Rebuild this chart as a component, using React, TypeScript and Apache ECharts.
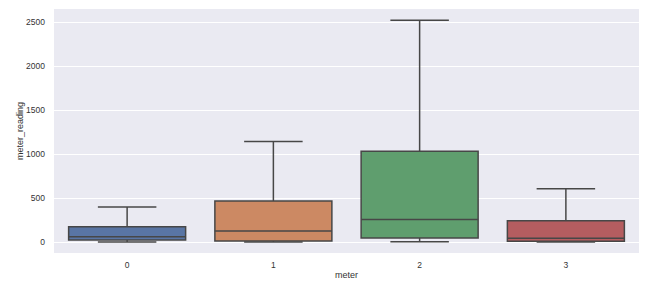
import React, { useEffect, useRef } from "react";
import * as echarts from "echarts";

const categories = ["0", "1", "2", "3"];
// [lowerWhisker, q1, median, q3, upperWhisker]
const lowerWhisker = [0, 0, 3, 0];
const q1 = [23, 11, 45, 8];
const median = [60, 124, 256, 42];
const q3 = [173, 464, 1029, 241];
const upperWhisker = [396, 1142, 2519, 603];
const boxColors = ["#5975a4", "#cc8963", "#5f9e6e", "#b55d60"];
const yTicks = [0, 500, 1000, 1500, 2000, 2500];

export default function App() {
  const ref = useRef<HTMLDivElement>(null);
  useEffect(() => {
    if (!ref.current) return;
    const chart = echarts.init(ref.current, null, { renderer: "svg" });
    const data = categories.map((c, i) => [i, lowerWhisker[i], q1[i], median[i], q3[i], upperWhisker[i]]);
    const lineColor = "#474747";
    chart.setOption({
      animation: false,
      backgroundColor: "#ffffff",
      textStyle: { fontFamily: "Liberation Sans, Arial, sans-serif" },
      grid: {
        left: 54, right: 18, top: 9, bottom: 35, show: true, backgroundColor: "#eaeaf2", borderWidth: 0,
        containLabel: false, outerBoundsMode: "none",
      },
      xAxis: {
        type: "category",
        data: categories,
        name: "meter",
        nameLocation: "middle",
        nameGap: 17,
        nameMoveOverlap: false,
        nameTextStyle: { color: "#333333", fontSize: 9 },
        axisLine: { show: false },
        axisTick: { show: false },
        axisLabel: { color: "#333333", fontSize: 8.5, margin: 7 },
        splitLine: { show: false },
      },
      yAxis: {
        type: "value",
        min: -126,
        max: 2646,
        name: "meter_reading",
        nameLocation: "middle",
        nameGap: 30,
        nameMoveOverlap: false,
        nameTextStyle: { color: "#333333", fontSize: 9 },
        axisLine: { show: false },
        axisTick: { show: false, customValues: yTicks },
        axisLabel: { color: "#333333", fontSize: 8.5, margin: 9, customValues: yTicks, formatter: (v: number) => String(v) },
        splitLine: { show: true, lineStyle: { color: "#ffffff", width: 1 } },
      },
      series: [
        {
          type: "custom",
          data,
          z: 3,
          renderItem: (params: any, api: any) => {
            const idx = api.value(0);
            const bw = api.size([1, 0])[0];
            const boxW = bw * 0.8;
            const capW = boxW * 0.5;
            const pLo = api.coord([idx, api.value(1)]);
            const pQ1 = api.coord([idx, api.value(2)]);
            const pMed = api.coord([idx, api.value(3)]);
            const pQ3 = api.coord([idx, api.value(4)]);
            const pHi = api.coord([idx, api.value(5)]);
            const cx = pQ1[0];
            const ls = { stroke: lineColor, lineWidth: 1.5 };
            return {
              type: "group",
              children: [
                { type: "line", shape: { x1: cx, y1: pQ3[1], x2: cx, y2: pHi[1] }, style: ls },
                { type: "line", shape: { x1: cx, y1: pQ1[1], x2: cx, y2: pLo[1] }, style: ls },
                { type: "line", shape: { x1: cx - capW / 2, y1: pHi[1], x2: cx + capW / 2, y2: pHi[1] }, style: ls },
                { type: "line", shape: { x1: cx - capW / 2, y1: pLo[1], x2: cx + capW / 2, y2: pLo[1] }, style: ls },
                {
                  type: "rect",
                  shape: { x: cx - boxW / 2, y: pQ3[1], width: boxW, height: pQ1[1] - pQ3[1] },
                  style: { fill: boxColors[params.dataIndex], stroke: lineColor, lineWidth: 1.5 },
                },
                { type: "line", shape: { x1: cx - boxW / 2, y1: pMed[1], x2: cx + boxW / 2, y2: pMed[1] }, style: ls },
              ],
            };
          },
        },
      ],
    });
    return () => chart.dispose();
  }, []);
  return <div ref={ref} style={{ position: "fixed", left: 0, top: 0, width: 657, height: 288 }} />;
}
